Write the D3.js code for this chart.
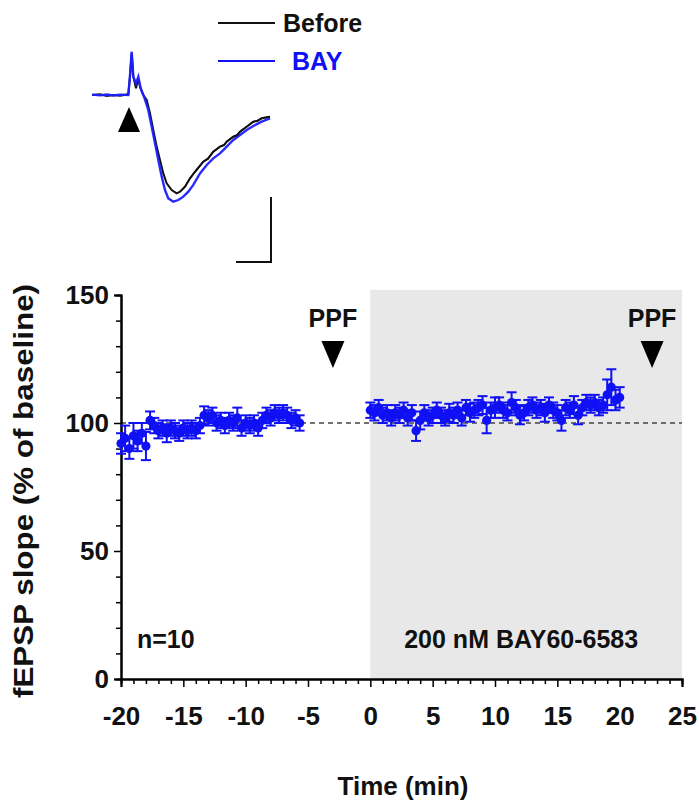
<!DOCTYPE html>
<html><head><meta charset="utf-8">
<script src="https://cdn.jsdelivr.net/npm/d3@7"></script>
<style>
body{margin:0;background:#fff;}
text{font-family:"Liberation Sans",Arial,sans-serif;font-weight:bold;}
</style></head>
<body><svg id="c" width="699" height="805"></svg>
<script>
// ---------- data ----------
const baseTimes = [-20,-19.67,-19.33,-19,-18.67,-18.33,-18,-17.67,-17.33,-17,-16.67,-16.33,-16,-15.67,-15.33,-15,-14.67,-14.33,-14,-13.67,-13.33,-13,-12.67,-12.33,-12,-11.67,-11.33,-11,-10.67,-10.33,-10,-9.67,-9.33,-9,-8.67,-8.33,-8,-7.67,-7.33,-7,-6.67,-6.33,-6,-5.67];
const baseValues = [92,94,90,95,93,96,91,101,99,97,98,96,98,97,96,98,97,98,97,99,103,102,103,100,101,99,101,100,102,98,100,99,100,98,101,103,102,104,103,104,103,101,102,100];
const baseErrors = [4,5,4,5,4,4,5.5,3.5,3,3,3,3.5,3,3,3,3,3,3,3,3,3.5,3,3,3,3,3,3,3,4,3,3,3,3,3,3,3,3,3,3,3,3,3,3,3];

const drugTimes = [0,0.33,0.67,1,1.33,1.67,2,2.33,2.67,3,3.33,3.67,4,4.33,4.67,5,5.33,5.67,6,6.33,6.67,7,7.33,7.67,8,8.33,8.67,9,9.33,9.67,10,10.33,10.67,11,11.33,11.67,12,12.33,12.67,13,13.33,13.67,14,14.33,14.67,15,15.33,15.67,16,16.33,16.67,17,17.33,17.67,18,18.33,18.67,19,19.33,19.67,20];
const drugValues = [105,104,106,103,104,102,104,103,105,102,104,97,101,104,102,103,105,103,102,104,103,105,102,106,104,105,106,107,101,105,106,107,105,104,108,106,103,104,106,107,105,106,104,107,105,104,101,106,105,107,103,106,108,107,108,106,107,111,114,109,110];
const drugErrors = [3,3,3,3,3,3,3,3,3,3,3,4,3.5,3,3,3,3,3,3,3.5,3,3,3,3,3.5,3,3,3.5,5,3,4,3,3,3,4,3,3.5,3,3,3,3,3,3.5,3,3,3,4,3,3,3.5,3.5,3,3,3,3,3,3,6,7,4,4];

const xMajor = [-20,-15,-10,-5,0,5,10,15,20,25];
const yMajor = [0,50,100,150];
const ppfTimes = [-3, 22.6];

// inset traces: [time ms, amplitude mV]
const traceBefore = [[0,0],[0.8,0.005],[1.47,-0.008],[2.13,0],[2.8,-0.005],[3.63,0.005],[3.8,0.141],[3.97,0.32],[4.13,0.141],[4.4,0.051],[4.63,0.128],[4.8,0.064],[5.13,0],[5.47,-0.038],[5.8,-0.141],[6.13,-0.269],[6.47,-0.397],[6.8,-0.5],[7.13,-0.603],[7.47,-0.679],[7.97,-0.731],[8.47,-0.756],[8.8,-0.744],[9.3,-0.705],[9.8,-0.641],[10.2,-0.6],[10.47,-0.575],[11.13,-0.513],[11.6,-0.49],[12.13,-0.436],[12.8,-0.397],[13.2,-0.385],[13.47,-0.359],[14.13,-0.321],[14.5,-0.31],[14.8,-0.282],[15.47,-0.244],[16.13,-0.205],[16.5,-0.2],[16.97,-0.179],[17.8,-0.167]];
const traceBAY = [[0,0.003],[0.8,-0.003],[1.47,0.004],[2.13,-0.004],[2.8,0.003],[3.63,0],[3.8,0.15],[3.97,0.333],[4.13,0.141],[4.4,0.09],[4.63,0.141],[4.87,0.05],[5.2,-0.013],[5.63,-0.115],[5.97,-0.244],[6.3,-0.372],[6.63,-0.5],[6.97,-0.628],[7.3,-0.731],[7.63,-0.795],[8.13,-0.821],[8.63,-0.808],[9.13,-0.782],[9.63,-0.744],[10.13,-0.692],[10.8,-0.603],[11.47,-0.538],[12.13,-0.487],[12.8,-0.449],[13.47,-0.397],[14.13,-0.346],[14.8,-0.308],[15.47,-0.269],[16.13,-0.238],[16.97,-0.205],[17.8,-0.179]];
const legendLabels = ["Before","BAY"];

// ---------- drawing ----------
const svg = d3.select("#c");
const BLUE = "#1010f5";
const x = d3.scaleLinear().domain([-20,25]).range([121,682]);
const y = d3.scaleLinear().domain([0,150]).range([679,295]);

// shaded drug period
svg.append("rect").attr("x",x(0)).attr("y",y(152)).attr("width",x(25)-x(0)).attr("height",y(0)-y(152)).attr("fill","#e8e8e8");

// dashed 100% line
svg.append("line").attr("x1",x(-20)).attr("x2",x(25)).attr("y1",y(100)).attr("y2",y(100))
  .attr("stroke","#444").attr("stroke-width",1.5).attr("stroke-dasharray","5,4");

// axes
const fmt = d => String(d);
svg.append("g").attr("transform",`translate(${x(-20)},0)`)
  .call(d3.axisLeft(y).tickValues(yMajor).tickSize(7).tickPadding(5).tickFormat(fmt));
svg.append("g").attr("transform",`translate(${x(-20)},0)`)
  .call(d3.axisLeft(y).tickValues(d3.range(0,151,10).filter(v=>v%50)).tickSize(5).tickFormat(""));
svg.append("g").attr("transform",`translate(0,${y(0)})`)
  .call(d3.axisBottom(x).tickValues(xMajor).tickSize(8).tickPadding(20).tickFormat(fmt));
svg.append("g").attr("transform",`translate(0,${y(0)})`)
  .call(d3.axisBottom(x).tickValues(d3.range(-20,26,1).filter(v=>v%5)).tickSize(5).tickFormat(""));
svg.selectAll(".domain").attr("stroke","#000").attr("stroke-width",2);
svg.selectAll(".tick line").attr("stroke","#000").attr("stroke-width",1.5);
svg.selectAll(".tick text").attr("font-size",26).attr("fill","#111")
  .style("font-family","'Liberation Sans',Arial,sans-serif").style("font-weight","bold");

// axis titles
svg.append("text").attr("x",403).attr("y",795).attr("text-anchor","middle").attr("font-size",26).attr("fill","#111").text("Time (min)");
svg.append("text").attr("transform",`translate(33,${(y(0)+y(150))/2 + 4}) rotate(-90)`).attr("text-anchor","middle")
  .attr("font-size",28).attr("textLength",414).attr("lengthAdjust","spacingAndGlyphs").attr("fill","#111").text("fEPSP slope (% of baseline)");

// data series
function drawSeries(times, vals, errs){
  const g = svg.append("g");
  const pts = times.map((t,i)=>({t, v:vals[i], e:errs[i]}));
  const eb = g.selectAll(".eb").data(pts).enter().append("g");
  eb.append("line").attr("x1",d=>x(d.t)).attr("x2",d=>x(d.t)).attr("y1",d=>y(d.v-d.e)).attr("y2",d=>y(d.v+d.e))
    .attr("stroke",BLUE).attr("stroke-width",2);
  [1,-1].forEach(s=>{
    eb.append("line").attr("x1",d=>x(d.t)-5).attr("x2",d=>x(d.t)+5).attr("y1",d=>y(d.v+s*d.e)).attr("y2",d=>y(d.v+s*d.e))
      .attr("stroke",BLUE).attr("stroke-width",2);
  });
  g.selectAll("circle").data(pts).enter().append("circle").attr("cx",d=>x(d.t)).attr("cy",d=>y(d.v)).attr("r",4.6).attr("fill",BLUE);
}
drawSeries(baseTimes, baseValues, baseErrors);
drawSeries(drugTimes, drugValues, drugErrors);

// annotations
svg.append("text").attr("x",137).attr("y",648).attr("font-size",25).attr("fill","#111").text("n=10");
svg.append("text").attr("x",x(12.1)).attr("y",648).attr("text-anchor","middle").attr("font-size",25).attr("fill","#111").text("200 nM BAY60-6583");
ppfTimes.forEach(t=>{
  svg.append("text").attr("x",x(t)).attr("y",327).attr("text-anchor","middle").attr("font-size",25).attr("fill","#111").text("PPF");
  const cx = x(t);
  svg.append("path").attr("d",`M${cx-11.5},341 L${cx+11.5},341 L${cx},368 Z`).attr("fill","#000");
});

// inset
const tx = d3.scaleLinear().domain([0,18]).range([92,272]);
const ty = d3.scaleLinear().domain([0,-0.5]).range([95,160]);
const line = d3.line().x(d=>tx(d[0])).y(d=>ty(d[1])).curve(d3.curveLinear);
svg.append("path").attr("d",line(traceBefore)).attr("fill","none").attr("stroke","#111").attr("stroke-width",2);
svg.append("path").attr("d",line(traceBAY)).attr("fill","none").attr("stroke","#1f1fff").attr("stroke-width",2.4).attr("opacity",0.95);
svg.append("path").attr("d",line(traceBefore.filter(d=>d[0]>8.6))).attr("fill","none").attr("stroke","#111").attr("stroke-width",1.6);
// stimulus triangle
svg.append("path").attr("d",`M${tx(3.7)},107 L${tx(3.7)+11},132 L${tx(3.7)-11},132 Z`).attr("fill","#000");
// scale bar: 0.5 mV, 3.5 ms
svg.append("path").attr("d",`M${tx(17.9)},${ty(-0.785)} L${tx(17.9)},${ty(-1.285)} L${tx(14.4)},${ty(-1.285)}`)
  .attr("fill","none").attr("stroke","#111").attr("stroke-width",2);
// legend
const legColors = ["#111", BLUE];
legendLabels.forEach((lab,i)=>{
  const ly = 23 + i*38;
  svg.append("line").attr("x1",218).attr("x2",275).attr("y1",ly).attr("y2",ly).attr("stroke",legColors[i]).attr("stroke-width",2);
  svg.append("text").attr("x",i===0?283:292).attr("y",ly+9).attr("font-size",25).attr("fill",legColors[i]).text(lab);
});
</script></body></html>
